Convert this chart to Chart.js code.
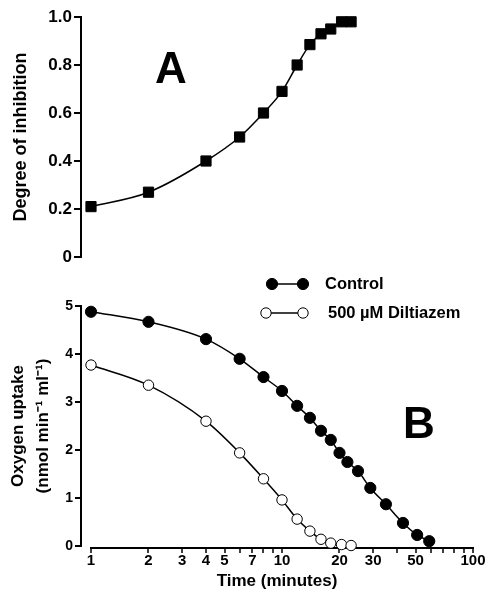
<!DOCTYPE html>
<html><head><meta charset="utf-8">
<script src="https://cdn.jsdelivr.net/npm/chart.js@4"></script>
<style>
html,body{margin:0;padding:0;background:#fff;}
#wrap{position:relative;width:489px;height:598px;overflow:hidden;background:#fff}
canvas{position:absolute;left:0}
#ca{top:0}
#cc{top:270px}
#cb{top:270px}
</style></head><body>
<div id="wrap"><canvas id="ca" width="489" height="280"></canvas><canvas id="cc" width="489" height="328"></canvas><canvas id="cb" width="489" height="328"></canvas></div>
<script>
// ---- data ----
const timeA = [1, 2, 4, 6, 8, 10, 12, 14, 16, 18, 20.5, 23];
const inhibition = [0.21, 0.27, 0.40, 0.50, 0.60, 0.69, 0.80, 0.885, 0.93, 0.95, 0.98, 0.98];
const timeControl = [1, 2, 4, 6, 8, 10, 12, 14, 16, 18, 20, 22, 25, 29, 35, 43, 51, 59];
const uptakeControl = [4.88, 4.67, 4.31, 3.90, 3.52, 3.23, 2.92, 2.67, 2.40, 2.21, 1.94, 1.75, 1.56, 1.21, 0.87, 0.48, 0.23, 0.10];
const timeDiltiazem = [1, 2, 4, 6, 8, 10, 12, 14, 16, 18, 20.5, 23];
const uptakeDiltiazem = [3.77, 3.35, 2.60, 1.94, 1.40, 0.96, 0.56, 0.31, 0.14, 0.06, 0.03, 0.01];
const seriesLabels = ['Control', '500 \u00B5M Diltiazem'];
const xTickValues = [1, 2, 3, 4, 5, 6, 7, 8, 9, 10, 20, 30, 40, 50, 60, 70, 80, 90, 100];
const xTickLabels = ['1', '2', '3', '4', '5', '', '7', '', '', '10', '20', '30', '', '50', '', '', '', '', '100'];
const yTicksA = [0, 0.2, 0.4, 0.6, 0.8, 1.0];
const yTickLabelsA = ['0', '0.2', '0.4', '0.6', '0.8', '1.0'];
const yTicksB = [0, 1, 2, 3, 4, 5];
const yTickLabelsB = ['0', '1', '2', '3', '4', '5'];
const panelLetters = ['A', 'B'];

// ---- styling ----
const FONT = "'Liberation Sans', Arial, Helvetica, sans-serif";
const X_MIN = Math.pow(10, -20 / 382); // y axis stands a little left of t = 1
const X_MAX = 100;

function letterPlugin(letter, cx, baseY) {
  return {
    id: 'letter' + letter,
    afterDraw(chart) {
      const ctx = chart.ctx;
      ctx.save();
      ctx.fillStyle = '#000';
      ctx.font = 'bold 44px ' + FONT;
      ctx.textAlign = 'center';
      ctx.textBaseline = 'alphabetic';
      ctx.fillText(letter, cx, baseY);
      ctx.restore();
    }
  };
}

const seriesLegend = {
  id: 'seriesLegend',
  afterDraw(chart) {
    const ctx = chart.ctx;
    const rows = [{y: 14, x1: 272, x2: 303, tx: 325}, {y: 43, x1: 266, x2: 303, tx: 328}];
    ctx.save();
    chart.data.datasets.forEach((ds, i) => {
      const r = rows[i];
      ctx.strokeStyle = '#000'; ctx.lineWidth = 1.5;
      ctx.beginPath(); ctx.moveTo(r.x1, r.y); ctx.lineTo(r.x2, r.y); ctx.stroke();
      [r.x1, r.x2].forEach(x => {
        ctx.beginPath();
        ctx.arc(x, r.y, ds.pointRadius, 0, Math.PI * 2);
        ctx.fillStyle = ds.pointBackgroundColor; ctx.fill();
        ctx.lineWidth = ds.pointBorderWidth; ctx.strokeStyle = ds.pointBorderColor; ctx.stroke();
      });
      ctx.fillStyle = '#000';
      ctx.font = 'bold 16.5px ' + FONT;
      ctx.textAlign = 'left'; ctx.textBaseline = 'middle';
      ctx.fillText(ds.label, r.tx, r.y);
    });
    ctx.restore();
  }
};

// x axis line and tick marks for the time axis (drawn through the x scale)
const xAxisPlugin = {
  id: 'xAxisPlugin',
  afterDraw(chart) {
    const ctx = chart.ctx, ca = chart.chartArea, xs = chart.scales.x;
    ctx.save();
    ctx.fillStyle = '#000';
    const y0 = ca.bottom + 2;
    const xa = Math.round(xs.getPixelForValue(xTickValues[0]));
    const xb = Math.round(xs.getPixelForValue(xTickValues[xTickValues.length - 1]));
    ctx.fillRect(xa - 1, y0 - 1, xb - xa + 2, 2);
    xTickValues.forEach(v => {
      const x = Math.round(xs.getPixelForValue(v));
      ctx.fillRect(x - 0.75, y0, 1.5, 5);
    });
    ctx.restore();
  }
};

// hidden time scale shared by the two data panels
function hiddenX() {
  return {type: 'logarithmic', min: X_MIN, max: X_MAX, display: false,
    afterBuildTicks: s => { s.ticks = xTickValues.map(v => ({value: v})); }};
}

function yAxis(ticks, labels, max, fontSize, tickLen, titleText, titleFont, titlePad) {
  return {
    type: 'linear', min: 0, max: max,
    afterFit: s => { s.width = 81; },
    afterBuildTicks: s => { s.ticks = ticks.map(v => ({value: v})); },
    ticks: {color: '#000', padding: 2, font: {family: FONT, size: fontSize, weight: 'bold'},
      callback: v => labels[ticks.findIndex(t => Math.abs(t - v) < 1e-9)]},
    grid: {drawOnChartArea: false, drawTicks: true, tickLength: tickLen, lineWidth: 2, color: '#000'},
    border: {display: true, width: 2, color: '#000'},
    title: {display: true, text: titleText, color: '#000', font: titleFont, padding: {top: titlePad, bottom: 0}}
  };
}

function lineDs(label, xs, ys, opts) {
  return Object.assign({
    label, data: xs.map((x, i) => ({x, y: ys[i]})),
    borderColor: '#000', borderWidth: 1.5, fill: false, clip: false,
    cubicInterpolationMode: 'monotone', pointHoverRadius: 0
  }, opts);
}

// ---- panel A ----
new Chart(document.getElementById('ca'), {
  type: 'line',
  data: {datasets: [lineDs('Degree of inhibition', timeA, inhibition, {
    pointStyle: 'rect', pointRadius: 7.2, pointBackgroundColor: '#000',
    pointBorderColor: '#000', pointBorderWidth: 1})]},
  options: {
    responsive: false, animation: false, events: [],
    layout: {padding: {left: 0, top: 17, right: 16, bottom: 23}},
    plugins: {legend: {display: false}, tooltip: {enabled: false}},
    scales: {
      x: hiddenX(),
      y: yAxis(yTicksA, yTickLabelsA, 1, 17, 7, 'Degree of inhibition',
        {family: FONT, size: 18, weight: 'bold'}, 10)
    }
  },
  plugins: [letterPlugin(panelLetters[0], 171, 83)]
});

// ---- panel B: time axis (labels, title) ----
new Chart(document.getElementById('cc'), {
  type: 'line',
  data: {datasets: []},
  options: {
    responsive: false, animation: false, events: [],
    layout: {padding: {left: 81, top: 36, right: 16, bottom: 0}},
    plugins: {legend: {display: false}, tooltip: {enabled: false}},
    scales: {
      x: {
        type: 'logarithmic', min: X_MIN, max: X_MAX,
        afterBuildTicks: s => { s.ticks = xTickValues.map(v => ({value: v})); },
        afterFit: s => { s.height = 52; },
        ticks: {autoSkip: false, maxRotation: 0, minRotation: 0, padding: 0, color: '#000',
          font: {family: FONT, size: 15, weight: 'bold'},
          callback: v => xTickLabels[xTickValues.indexOf(v)] ?? ''},
        grid: {drawOnChartArea: false, drawTicks: true, tickLength: 6, color: 'rgba(0,0,0,0)'},
        border: {display: false},
        title: {display: true, text: 'Time (minutes)', color: '#000',
          font: {family: FONT, size: 17, weight: 'bold'}, padding: {top: 0, bottom: 6}}
      },
      y: {type: 'linear', min: 0, max: 5, display: false}
    }
  },
  plugins: [xAxisPlugin]
});

// ---- panel B: data and oxygen-uptake axis ----
new Chart(document.getElementById('cb'), {
  type: 'line',
  data: {datasets: [
    lineDs(seriesLabels[0], timeControl, uptakeControl, {
      pointStyle: 'circle', pointRadius: 5.6, pointBackgroundColor: '#000',
      pointBorderColor: '#000', pointBorderWidth: 1}),
    lineDs(seriesLabels[1], timeDiltiazem, uptakeDiltiazem, {
      pointStyle: 'circle', pointRadius: 5.2, pointBackgroundColor: '#fff',
      pointBorderColor: '#000', pointBorderWidth: 1})
  ]},
  options: {
    responsive: false, animation: false, events: [],
    layout: {padding: {left: 0, top: 36, right: 16, bottom: 52}},
    plugins: {legend: {display: false}, tooltip: {enabled: false}},
    scales: {
      x: hiddenX(),
      y: yAxis(yTicksB, yTickLabelsB, 5, 14, 6, ['Oxygen uptake', '(nmol min\u207B\u00B9 ml\u207B\u00B9)'],
        {family: FONT, size: 17, weight: 'bold', lineHeight: 1.45}, 6)
    }
  },
  plugins: [seriesLegend, letterPlugin(panelLetters[1], 419, 168)]
});
</script>
</body></html>
